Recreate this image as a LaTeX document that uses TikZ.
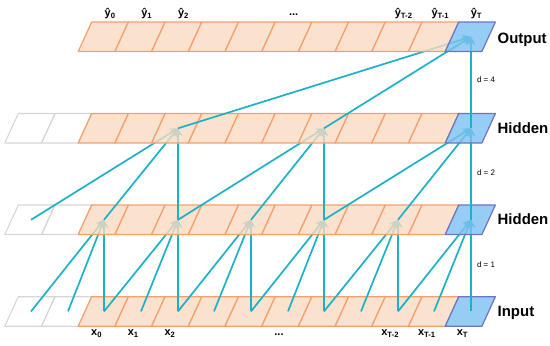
\documentclass[tikz,border=0pt]{standalone}
\usepackage{fontspec}
\setmainfont{Liberation Sans}
\usetikzlibrary{arrows.meta}
\definecolor{peachfill}{HTML}{F9DBC2}
\definecolor{peachline}{HTML}{F5A06C}
\definecolor{bluecellfill}{HTML}{7CC0F2}
\definecolor{bluecellline}{HTML}{6E72C6}
\definecolor{graycellline}{HTML}{D6D6D6}
\definecolor{connline}{HTML}{1CB1C9}
\begin{document}
\begin{tikzpicture}[x=1bp,y=-1bp,
  graycell/.style={draw=graycellline,line width=1.1bp,line join=round},
  orangecell/.style={draw=peachline,fill=peachfill,fill opacity=0.8,line width=1.2bp,line join=round},
  bluecell/.style={draw=bluecellline,fill=bluecellfill,fill opacity=0.8,line width=1.2bp,line join=round},
  conn/.style={draw=connline,line width=1.7bp,-{Stealth[length=8bp,width=9bp,inset=2.5bp]}},
  toplab/.style={font=\fontsize{11}{13}\selectfont\bfseries,inner sep=0pt},
  botlab/.style={font=\fontsize{11}{13}\selectfont\bfseries,inner sep=0pt},
  dlab/.style={font=\fontsize{8}{9.6}\selectfont,inner sep=0pt},
  rowlab/.style={font=\fontsize{15}{18}\selectfont\bfseries,inner sep=0pt,anchor=base west}
]
\useasboundingbox (0,0) rectangle (550,345);
% ---------- coordinates (cell centres) ----------
\foreach \k in {0,...,12}{
  \pgfmathsetmacro\xc{round(30.8+36.7*\k)}
  \coordinate (in-\k) at (\xc,311.4);
  \coordinate (ha-\k) at (\xc,219.8);
  \coordinate (hb-\k) at (\xc,128.3);
  \coordinate (out-\k) at (\xc,36.8);
}
% ---------- input row ----------
\foreach \k in {0,1}{\pgfmathsetmacro\xl{18.3+36.7*\k}
  \draw[graycell] (\xl,296.7) -- ++(36.7,0) -- ++(-13.5,29.5) -- ++(-36.7,0) -- cycle;}
\foreach \k in {2,...,11}{\pgfmathsetmacro\xl{18.3+36.7*\k}
  \draw[orangecell] (\xl,296.7) -- ++(36.7,0) -- ++(-13.5,29.5) -- ++(-36.7,0) -- cycle;}
\draw[bluecell] (458.7,296.7) -- ++(36.7,0) -- ++(-13.5,29.5) -- ++(-36.7,0) -- cycle;
% ---------- input -> hidden 1 (d = 1) ----------
\foreach \h in {2,4,...,12}{
  \pgfmathtruncatemacro\a{\h-2}\pgfmathtruncatemacro\b{\h-1}
  \draw[conn] (in-\a) -- (ha-\h);
  \draw[conn] (in-\b) -- (ha-\h);
  \draw[conn] (in-\h) -- (ha-\h);
}
% ---------- hidden row 1 ----------
\foreach \k in {0,1}{\pgfmathsetmacro\xl{18.3+36.7*\k}
  \draw[graycell] (\xl,205) -- ++(36.7,0) -- ++(-13.5,29.5) -- ++(-36.7,0) -- cycle;}
\foreach \k in {2,...,11}{\pgfmathsetmacro\xl{18.3+36.7*\k}
  \draw[orangecell] (\xl,205) -- ++(36.7,0) -- ++(-13.5,29.5) -- ++(-36.7,0) -- cycle;}
\draw[bluecell] (458.7,205) -- ++(36.7,0) -- ++(-13.5,29.5) -- ++(-36.7,0) -- cycle;
% ---------- hidden 1 -> hidden 2 (d = 2) ----------
\foreach \h in {4,8,12}{
  \pgfmathtruncatemacro\a{\h-4}\pgfmathtruncatemacro\b{\h-2}
  \draw[conn] (ha-\a) -- (hb-\h);
  \draw[conn] (ha-\b) -- (hb-\h);
  \draw[conn] (ha-\h) -- (hb-\h);
}
% ---------- hidden row 2 ----------
\foreach \k in {0,1}{\pgfmathsetmacro\xl{18.3+36.7*\k}
  \draw[graycell] (\xl,113.5) -- ++(36.7,0) -- ++(-13.5,29.5) -- ++(-36.7,0) -- cycle;}
\foreach \k in {2,...,11}{\pgfmathsetmacro\xl{18.3+36.7*\k}
  \draw[orangecell] (\xl,113.5) -- ++(36.7,0) -- ++(-13.5,29.5) -- ++(-36.7,0) -- cycle;}
\draw[bluecell] (458.7,113.5) -- ++(36.7,0) -- ++(-13.5,29.5) -- ++(-36.7,0) -- cycle;
% ---------- hidden 2 -> output (d = 4) ----------
\draw[conn] (hb-4) -- (out-12);
\draw[conn] (hb-8) -- (out-12);
\draw[conn] (hb-12) -- (out-12);
% ---------- output row ----------
\foreach \k in {2,...,11}{\pgfmathsetmacro\xl{18.3+36.7*\k}
  \draw[orangecell] (\xl,22) -- ++(36.7,0) -- ++(-13.5,29.5) -- ++(-36.7,0) -- cycle;}
\draw[bluecell] (458.7,22) -- ++(36.7,0) -- ++(-13.5,29.5) -- ++(-36.7,0) -- cycle;
% ---------- labels ----------
\node[toplab] (y0) at (110.1,13.5) {ŷ\textsubscript{0}};
\node[toplab] (y1) at (146.8,13.5) {ŷ\textsubscript{1}};
\node[toplab] (y2) at (183.5,13.5) {ŷ\textsubscript{2}};
\node[toplab] (ydots) at (293.6,15) {...};
\node[toplab] (yT2) at (403.7,13.5) {ŷ\textsubscript{T-2}};
\node[toplab] (yT1) at (440.4,13.5) {ŷ\textsubscript{T-1}};
\node[toplab] (yT) at (476.5,13.5) {ŷ\textsubscript{T}};
\node[botlab] (x0) at (96.6,333.5) {x\textsubscript{0}};
\node[botlab] (x1) at (133.3,333.5) {x\textsubscript{1}};
\node[botlab] (x2) at (170,333.5) {x\textsubscript{2}};
\node[botlab] (xdots) at (279,334.5) {...};
\node[botlab] (xT2) at (390.2,333.5) {x\textsubscript{T-2}};
\node[botlab] (xT1) at (426.9,333.5) {x\textsubscript{T-1}};
\node[botlab] (xT) at (462.5,333.5) {x\textsubscript{T}};
\node[dlab] (d4) at (486,80) {d = 4};
\node[dlab] (d2) at (486,173) {d = 2};
\node[dlab] (d1) at (486,265) {d = 1};
\node[rowlab] (lout) at (497.5,43) {Output};
\node[rowlab] (lhb) at (497.5,133.6) {Hidden};
\node[rowlab] (lha) at (497.5,224.6) {Hidden};
\node[rowlab] (lin) at (497.5,316.6) {Input};
\end{tikzpicture}
\end{document}
